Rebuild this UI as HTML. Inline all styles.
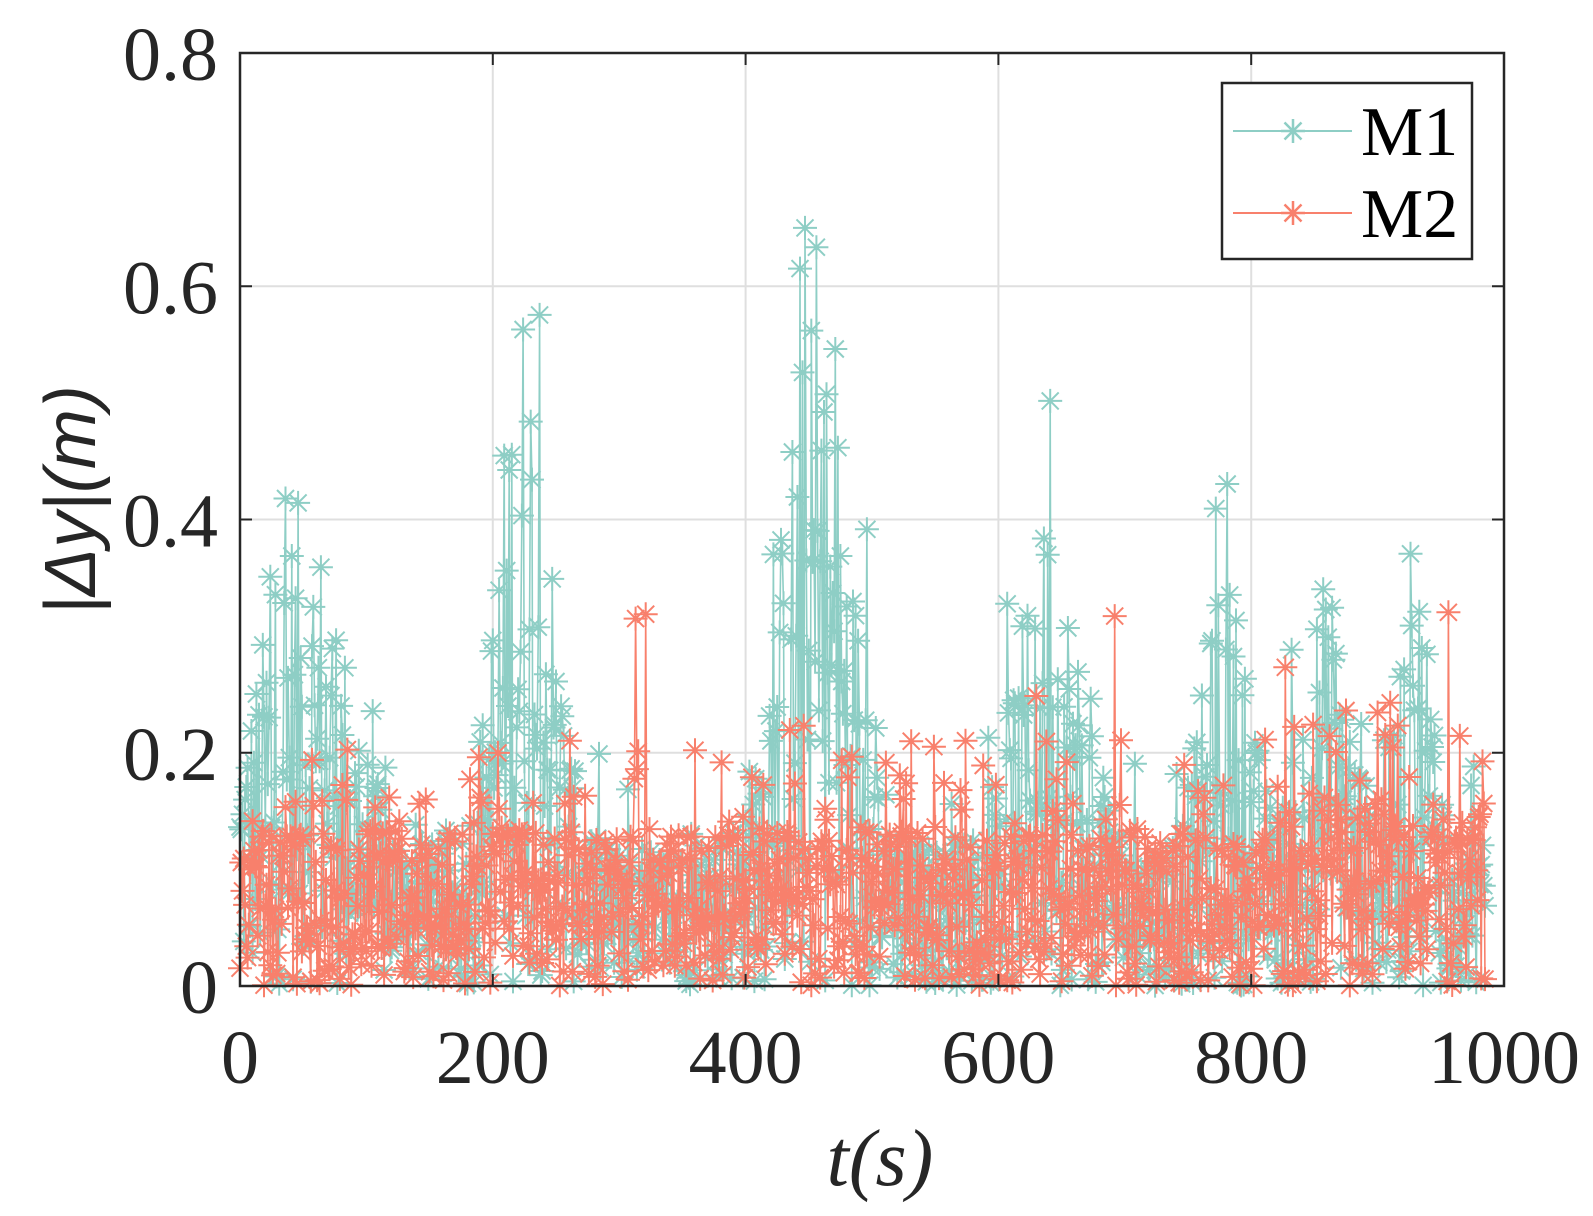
<!DOCTYPE html>
<html><head><meta charset="utf-8"><style>
html,body{margin:0;padding:0;background:#fff;}
svg{display:block;}
.tk{font-family:"Liberation Serif",serif;font-size:76px;fill:#262626;}
</style></head><body>
<svg id="s" width="1593" height="1216" xmlns="http://www.w3.org/2000/svg">
<g id="grid" stroke="#dfdfdf" stroke-width="2"></g>
<g id="data"></g>
<rect x="240" y="53" width="1264" height="933" fill="none" stroke="#262626" stroke-width="2.5"/>
<g id="ticks" stroke="#262626" stroke-width="2"></g>
<g id="labels"></g>
<text x="880" y="1185" text-anchor="middle" font-family="Liberation Serif,serif" font-style="italic" font-size="80" fill="#262626">t(s)</text>
<text transform="translate(95,500) rotate(-90)" text-anchor="middle" font-family="Liberation Sans,sans-serif" font-style="italic" font-size="72" fill="#262626">|Δy|(m)</text>
<rect x="1222" y="83" width="250" height="176" fill="#fff" stroke="#262626" stroke-width="2.5"/>
<line x1="1233" y1="131" x2="1352" y2="131" stroke="#8ecec5" stroke-width="2"/>
<line x1="1233" y1="213" x2="1352" y2="213" stroke="#f8806c" stroke-width="2"/>
<g id="leg"></g>
<text x="1361" y="155" font-family="Liberation Serif,serif" font-size="70" fill="#000">M1</text>
<text x="1361" y="237" font-family="Liberation Serif,serif" font-size="70" fill="#000">M2</text>
</svg>
<script>
(function(){
var NS="http://www.w3.org/2000/svg";
function X(t){return 240+t*1.264;}
function Y(v){return 986-v*1166.25;}
var g=document.getElementById('grid'),tk=document.getElementById('ticks'),lb=document.getElementById('labels');
function el(p,n,a){var e=document.createElementNS(NS,n);for(var k in a)e.setAttribute(k,a[k]);p.appendChild(e);return e;}
for(var i=1;i<5;i++){var x=X(i*200);el(g,'line',{x1:x,y1:53,x2:x,y2:986});}
for(var i=1;i<4;i++){var y=Y(i*0.2);el(g,'line',{x1:240,y1:y,x2:1504,y2:y});}
for(var i=0;i<=5;i++){var x=X(i*200);el(tk,'line',{x1:x,y1:986,x2:x,y2:974});el(tk,'line',{x1:x,y1:53,x2:x,y2:65});
 var t=el(lb,'text',{x:x,y:1083,'text-anchor':'middle','class':'tk'});t.textContent=String(i*200);}
var yl=['0','0.2','0.4','0.6','0.8'];
for(var i=0;i<5;i++){var y=Y(i*0.2);el(tk,'line',{x1:240,y1:y,x2:252,y2:y});el(tk,'line',{x1:1504,y1:y,x2:1492,y2:y});
 var t=el(lb,'text',{x:218,y:y+27,'text-anchor':'end','class':'tk'});t.textContent=yl[i];}
var seed=12345;function r(){seed=(seed*1103515245+12345)%2147483648;return seed/2147483648;}
function star(cx,cy){var s=12,d=8.5;return 'M'+(cx-s)+' '+cy+'h'+(2*s)+'M'+cx+' '+(cy-s)+'v'+(2*s)+'M'+(cx-d)+' '+(cy-d)+'l'+(2*d)+' '+(2*d)+'M'+(cx-d)+' '+(cy+d)+'l'+(2*d)+' '+(-2*d);}
function env1(t){var c=[[50,0.22,45],[225,0.36,28],[455,0.34,38],[640,0.2,35],[780,0.17,25],[860,0.17,25],[930,0.18,20]];var e=0.09;
 for(var k=0;k<c.length;k++){var q=(t-c[k][0])/c[k][2];e+=c[k][1]*Math.exp(-q*q);}return e;}
function series(envf,col){var pts=[],stars='';
 for(var t=0;t<=985;t+=1){var v=envf(t)*(r()*1.35+(r()<0.1?r()*0.9:0));if(v>0.65)v=0.65;if(v<0)v=0;
  var x=+X(t).toFixed(1),y=+Y(v).toFixed(1);pts.push(x+','+y);stars+=star(x,y);}
 var d=document.getElementById('data');
 el(d,'polyline',{points:pts.join(' '),fill:'none',stroke:col,'stroke-width':1.6});
 el(d,'path',{d:stars,fill:'none',stroke:col,'stroke-width':2});}
series(env1,'#8ecec5');
series(function(t){return (r()<0.12?0.16:0.1)+(t>820?0.02:0);},'#f8806c');
var lg=document.getElementById('leg');
el(lg,'path',{d:star(1293,131),stroke:'#8ecec5','stroke-width':2.5,fill:'none'});
el(lg,'path',{d:star(1293,213),stroke:'#f8806c','stroke-width':2.5,fill:'none'});
})();
</script>
</body></html>
